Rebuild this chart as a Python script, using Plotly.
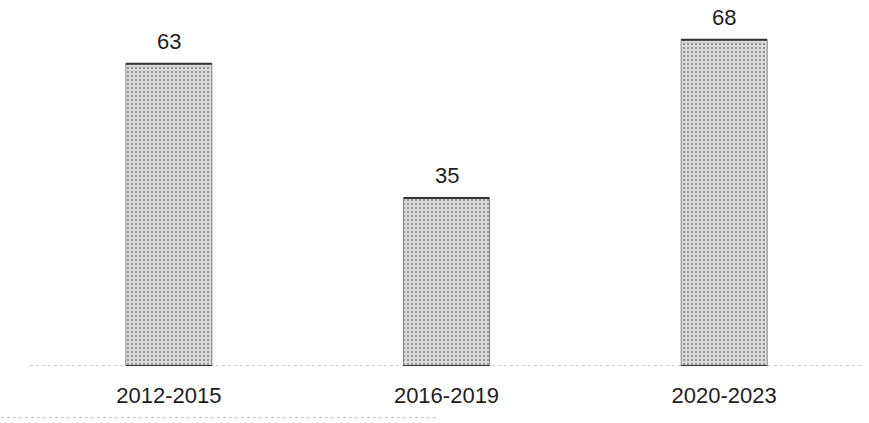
import plotly.graph_objects as go

periods = ["2012-2015", "2016-2019", "2020-2023"]
counts = [63, 35, 68]

BAR_W = 0.31
FONT = "Liberation Sans, Arial"

fig = go.Figure()
fig.add_trace(go.Bar(
    x=list(range(len(periods))),
    y=counts,
    width=BAR_W,
    marker=dict(
        color="#d8d8d8",
        line=dict(color="#8a8a8a", width=1),
        pattern=dict(shape=".", fgcolor="#505050", bgcolor="#dedede", size=4, solidity=0.3),
    ),
    hoverinfo="skip",
))

# darker top and bottom edges of each bar, plus the value above it
for i, v in enumerate(counts):
    for yy in (v, 0):
        fig.add_shape(type="line", xref="x", yref="y",
                      x0=i - BAR_W / 2, x1=i + BAR_W / 2, y0=yy, y1=yy,
                      line=dict(color="#333333", width=2))
    fig.add_annotation(x=i, y=v, text=str(v), showarrow=False,
                       yanchor="bottom", yshift=8,
                       font=dict(family=FONT, size=22, color="#1e1e1e"))

# dotted baseline
fig.add_shape(type="line", xref="paper", yref="y", x0=0, x1=1, y0=0, y1=0,
              line=dict(color="#9a9a9a", width=1, dash="dot"), layer="below")
# faint rule along the lower edge
fig.add_shape(type="line", xref="paper", yref="paper", x0=-0.035, x1=0.49, y0=-0.145, y1=-0.145,
              line=dict(color="#bbbbbb", width=1, dash="dot"))

fig.update_layout(
    width=869, height=423,
    margin=dict(l=30, r=6, t=10, b=57),
    paper_bgcolor="white", plot_bgcolor="white",
    showlegend=False,
    xaxis=dict(
        range=[-0.5, 2.5],
        tickmode="array", tickvals=list(range(len(periods))), ticktext=periods,
        showgrid=False, zeroline=False, showline=False, ticks="",
        tickfont=dict(family=FONT, size=22, color="#1e1e1e"),
        ticklabelstandoff=14,
    ),
    yaxis=dict(range=[0, 74.2], visible=False),
)

fig.write_html("out.html")
